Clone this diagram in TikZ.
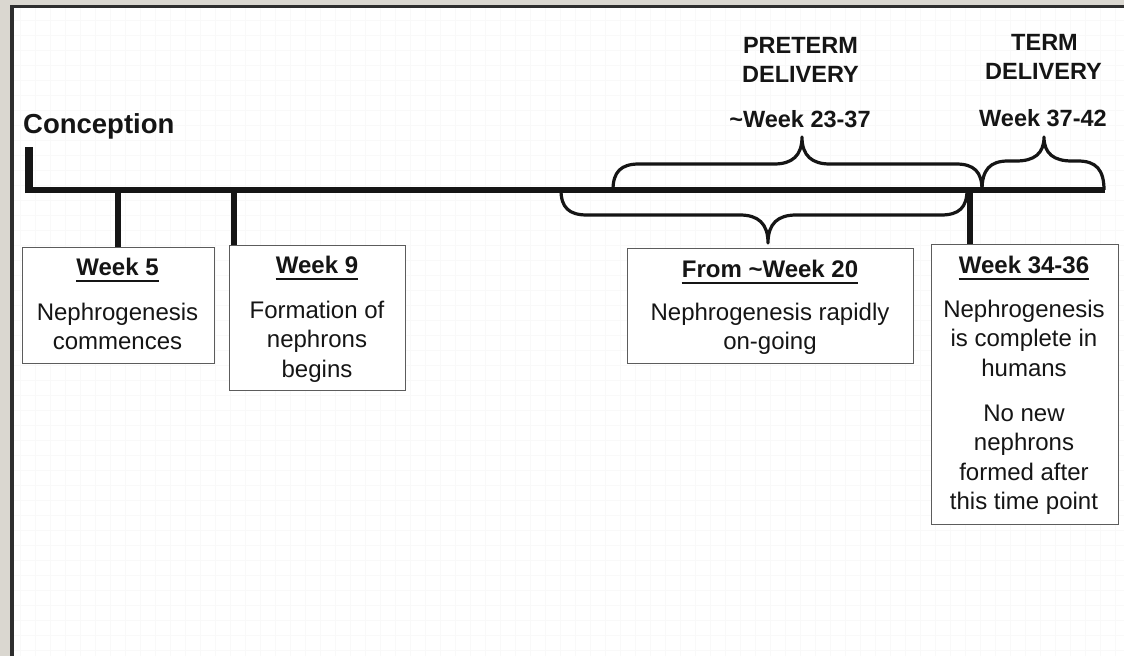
\documentclass[tikz,border=0pt]{standalone}
\usepackage{fontspec}
\setmainfont{Liberation Sans}
\definecolor{stripgray}{HTML}{DAD7D0}
\definecolor{framedark}{HTML}{2E2E2E}
\definecolor{boxedge}{HTML}{5C5C5C}
\definecolor{inkblack}{HTML}{151515}

% curly brace whose two ends sit on the time line (y = 190)
% #1 left end x, #2 right end x, #3 tip x, #4 y of the flat parts, #5 tip y
\newcommand\curlybr[5]{%
  \draw[bracepath] (#1,190) .. controls (#1,{190+0.7*(#4-190)}) and ({#1+8},#4) .. ({#1+26},#4)
    -- ({#3-28},#4) .. controls ({#3-10},#4) and (#3,{#4+0.3*(#5-#4)}) .. (#3,#5)
    .. controls (#3,{#4+0.3*(#5-#4)}) and ({#3+10},#4) .. ({#3+28},#4)
    -- ({#2-26},#4) .. controls ({#2-8},#4) and (#2,{190+0.7*(#4-190)}) .. (#2,190);}

\begin{document}
\begin{tikzpicture}[x=1pt,y=-1pt,
  gridline/.style={black!2.5, line width=0.6pt},
  axisline/.style={inkblack, line width=6pt},
  tick/.style={inkblack, line width=5.5pt},
  bracepath/.style={inkblack, line width=3.2pt, line join=round},
  box/.style={draw=boxedge, line width=1.4pt, fill=white, inner sep=0pt},
  head/.style={text=inkblack, font=\fontsize{23.5}{29}\selectfont\bfseries, inner sep=0pt, anchor=base},
  btitle/.style={text=inkblack, font=\fontsize{24}{29.5}\selectfont\bfseries, inner sep=0pt, anchor=base},
  body/.style={text=inkblack, font=\fontsize{24}{29.5}\selectfont, inner sep=0pt, anchor=north, align=center},
  uline/.style={inkblack, line width=1.8pt},
]
\useasboundingbox (0,0) rectangle (1124,656);

% window background, faint grid and frame
\fill[stripgray] (0,0) rectangle (1124,656);
\fill[white] (10,5) rectangle (1124,656);
\foreach \gx in {20,35,...,1115} \draw[gridline] (\gx,8) -- (\gx,656);
\foreach \gy in {20,35,...,650} \draw[gridline] (14,\gy) -- (1124,\gy);
\draw[framedark, line width=3.5pt] (12,656) -- (12,6.5) -- (1124,6.5);

% time line
\coordinate (t0) at (29,190);
\coordinate (t1) at (1105,190);
\node[text=inkblack, font=\fontsize{27.5}{33}\selectfont\bfseries, anchor=base west, inner sep=0pt] (conc) at (23,133) {Conception};
\draw[inkblack, line width=8pt] (t0) ++(0,3) -- ++(0,-46);

% delivery periods
\node[head] (preA) at (800.5,53) {PRETERM};
\node[head] (preB) at (800.5,82) {DELIVERY};
\node[head] (preC) at (800,127) {\textasciitilde{}Week 23-37};
\node[head] (termA) at (1044.5,50) {TERM};
\node[head] (termB) at (1043.5,79) {DELIVERY};
\node[head] (termC) at (1043,126) {Week 37-42};
\curlybr{613}{982}{802}{164}{137}
\curlybr{982}{1104}{1044}{161}{137}

% milestone boxes
\node[box, minimum width=192pt, minimum height=116pt, anchor=north west] (b5) at (21.5,247) {};
\node[box, minimum width=176pt, minimum height=145pt, anchor=north west] (b9) at (229,245) {};
\node[box, minimum width=286pt, minimum height=115pt, anchor=north west] (bf) at (627,248) {};
\node[box, minimum width=187.5pt, minimum height=280pt, anchor=north west] (b34) at (930.5,244) {};

\node[btitle] (t5) at (117.5,275) {Week 5};
\node[body] (x5) at (117.5,302.6) {Nephrogenesis\\commences};
\node[btitle] (t9) at (317,273) {Week 9};
\node[body] (x9) at (317,300.6) {Formation of\\nephrons\\begins};
\node[btitle] (tf) at (770,277) {From \textasciitilde{}Week 20};
\node[body] (xf) at (770,302.6) {Nephrogenesis rapidly\\on-going};
\node[btitle] (t34) at (1024,273) {Week 34-36};
\node[body] (x34) at (1024,299.6) {Nephrogenesis\\is complete in\\humans\\[15.5pt]No new\\nephrons\\formed after\\this time point};

\foreach \t in {t5,t9,tf,t34}
  \draw[uline] ([yshift=-6pt]\t.base west) -- ([yshift=-6pt]\t.base east);

% lower brace over the rapid nephrogenesis period
\curlybr{561}{967}{768}{215}{243}

% ticks from the time line down to the boxes
\draw[tick] (b5.north) -- (b5.north |- t0);
\draw[tick] ([xshift=5pt]b9.north west) -- ([xshift=5pt]b9.north west |- t0);
\draw[tick] ([xshift=39.5pt]b34.north west) -- ([xshift=39.5pt]b34.north west |- t0);

\draw[axisline] (t0) -- (t1);
\end{tikzpicture}
\end{document}
